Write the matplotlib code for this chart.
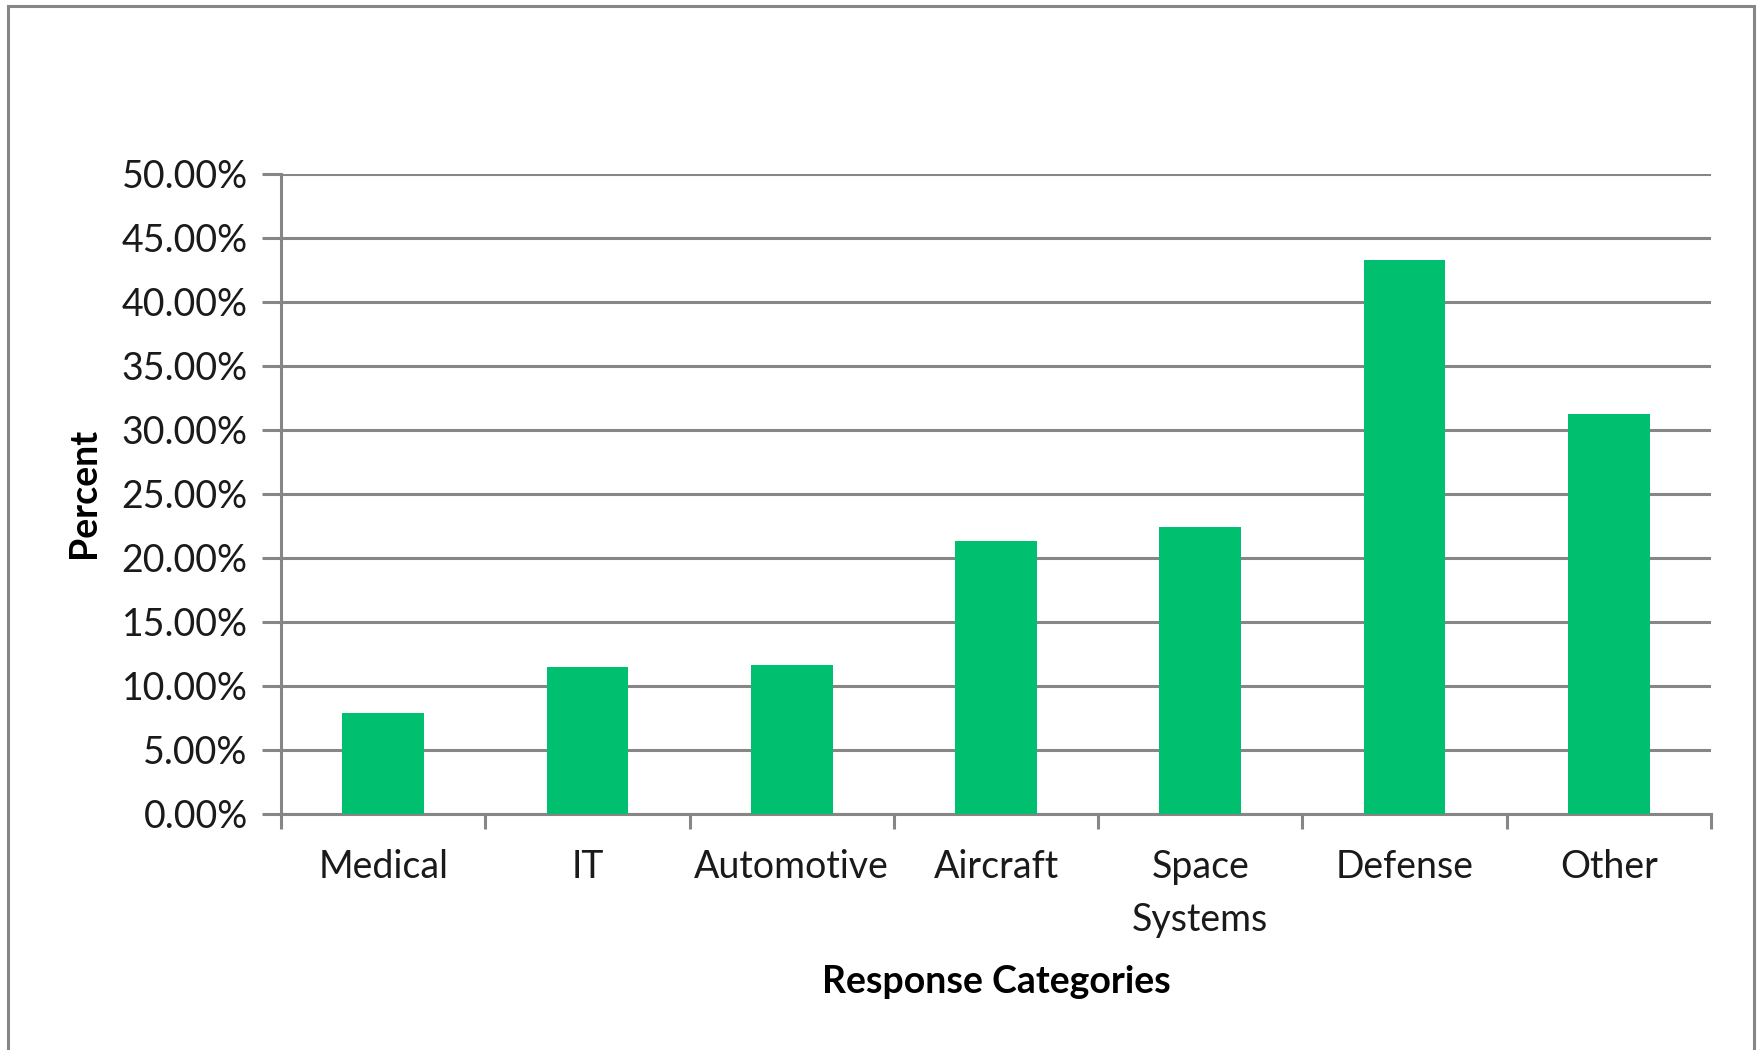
import numpy as np
import matplotlib.pyplot as plt
from matplotlib.patches import Rectangle
from matplotlib.ticker import FuncFormatter

plt.rcParams['font.family'] = ['Lato', 'DejaVu Sans']

# Data
categories = ['Medical', 'IT', 'Automotive', 'Aircraft', 'Space\nSystems', 'Defense', 'Other']
percent = [7.9, 11.5, 11.65, 21.3, 22.4, 43.25, 31.25]
yticks = [0, 5, 10, 15, 20, 25, 30, 35, 40, 45, 50]

GRID = '#868686'
BAR = '#00BF6F'

fig = plt.figure(figsize=(17.63, 10.5), dpi=100)
fig.patch.set_facecolor('white')

# outer chart frame (bottom edge cut off in the original)
frame = Rectangle((8 / 1763, -0.05), (1754 - 8) / 1763, 1.05 - 6 / 1050,
                  transform=fig.transFigure, fill=False, edgecolor=GRID, linewidth=2.2)
fig.patches.append(frame)

ax = fig.add_axes([281 / 1763, 1 - 814 / 1050, (1711 - 281) / 1763, (814 - 174) / 1050])

x = np.arange(len(categories)) + 0.5
ax.bar(x, percent, width=0.4, color=BAR, zorder=3)

ax.set_xlim(0, len(categories))
ax.set_ylim(0, 50)
ax.set_yticks(yticks)
ax.yaxis.set_major_formatter(FuncFormatter(lambda v, p: f'{v:.2f}%'))
ax.grid(axis='y', color=GRID, linewidth=2.2, zorder=0)

# category boundaries as major ticks, labels on minor ticks
ax.set_xticks(np.arange(len(categories) + 1))
ax.set_xticklabels([])
ax.set_xticks(x, minor=True)
ax.set_xticklabels(categories, minor=True, fontsize=27, color='#1a1a1a', linespacing=1.6)
ax.tick_params(axis='x', which='minor', length=0, pad=25)
ax.tick_params(axis='x', which='major', length=11, width=2.2, color=GRID, direction='out')
ax.tick_params(axis='y', length=14, width=2.2, color=GRID, labelsize=27, labelcolor='#1a1a1a', pad=10)

for side in ['top', 'right']:
    ax.spines[side].set_visible(False)
for side in ['left', 'bottom']:
    ax.spines[side].set_color(GRID)
    ax.spines[side].set_linewidth(2.2)

fig.text(84 / 1763, 1 - 493 / 1050, 'Percent', rotation=90, fontsize=27, fontweight='bold',
         ha='center', va='center')
fig.text(996 / 1763, 1 - 982 / 1050, 'Response Categories', fontsize=27, fontweight='bold',
         ha='center', va='center')

fig.savefig('out.png', dpi=100)
